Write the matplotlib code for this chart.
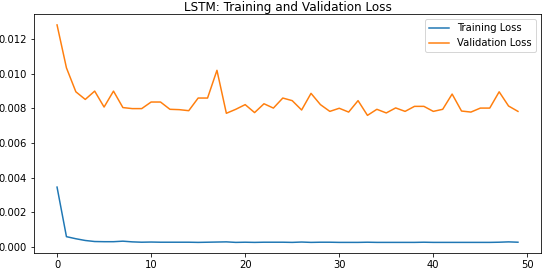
import numpy as np
import matplotlib
matplotlib.use("Agg")
import matplotlib.pyplot as plt

# loss values per epoch
train_loss = [0.00346, 0.00060, 0.00048, 0.00038, 0.00032, 0.00031, 0.00031, 0.00034, 0.00030, 0.00028,
              0.00029, 0.00028, 0.00028, 0.00028, 0.00028, 0.00027, 0.00028, 0.00029, 0.00030, 0.00027,
              0.00028, 0.00027, 0.00028, 0.00028, 0.00028, 0.00027, 0.00029, 0.00027, 0.00028, 0.00028,
              0.00027, 0.00027, 0.00027, 0.00028, 0.00027, 0.00027, 0.00027, 0.00027, 0.00027, 0.00028,
              0.00027, 0.00027, 0.00027, 0.00027, 0.00027, 0.00027, 0.00027, 0.00028, 0.00030, 0.00028]
val_loss = [0.01282, 0.01034, 0.00896, 0.00852, 0.00900, 0.00808, 0.00900, 0.00805, 0.00799, 0.00799,
            0.00837, 0.00837, 0.00795, 0.00793, 0.00787, 0.00860, 0.00860, 0.01020, 0.00772, 0.00795,
            0.00822, 0.00776, 0.00827, 0.00802, 0.00860, 0.00845, 0.00791, 0.00887, 0.00822, 0.00783,
            0.00801, 0.00779, 0.00845, 0.00760, 0.00795, 0.00774, 0.00803, 0.00783, 0.00812, 0.00812,
            0.00783, 0.00795, 0.00883, 0.00785, 0.00779, 0.00802, 0.00802, 0.00896, 0.00814, 0.00783]
epochs = np.arange(len(val_loss))

fig = plt.figure(figsize=(544 / 72., 270 / 72.), dpi=72)
ax = fig.add_axes([0.0625, 0.062, 0.932, 0.886])

ax.plot(epochs, train_loss, label="Training Loss")
ax.plot(epochs, val_loss, label="Validation Loss")

ax.set_title("LSTM: Training and Validation Loss", pad=3)
ax.legend(loc="upper right")

fig.savefig("out.png", dpi=72)
